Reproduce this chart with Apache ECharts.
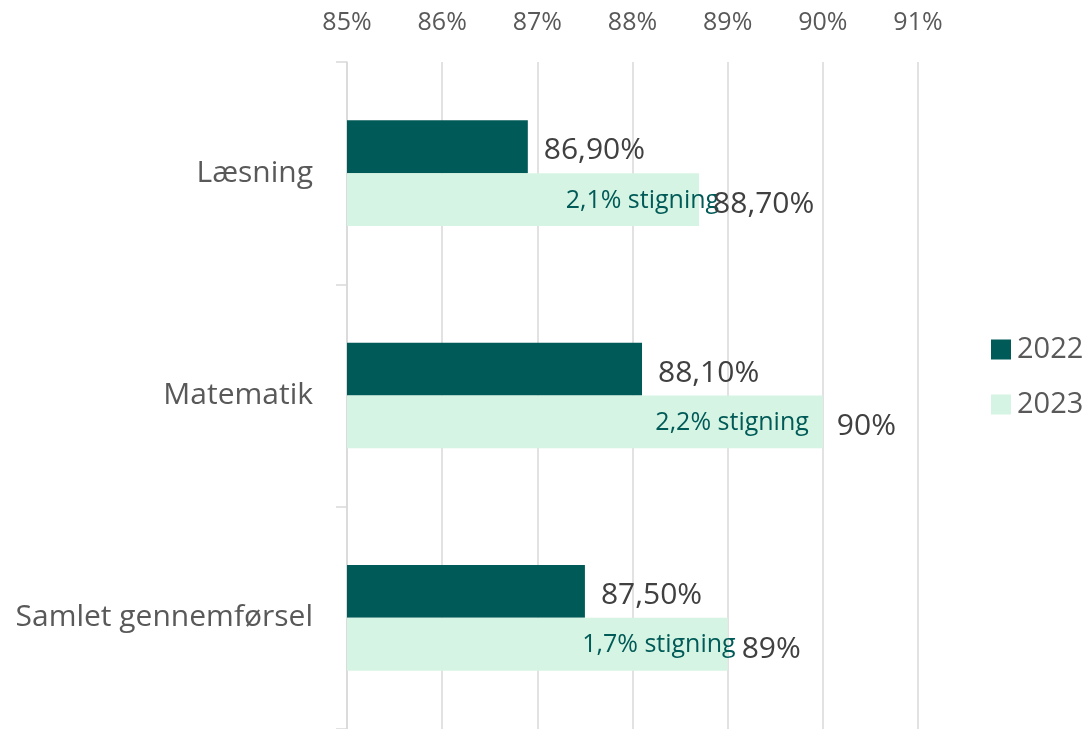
<!DOCTYPE html>
<html>
<head>
<meta charset="utf-8">
<script src="https://cdn.jsdelivr.net/npm/echarts@6/dist/echarts.min.js"></script>
<style>
  html, body { margin: 0; padding: 0; background: #fff; }
  #main { width: 1089px; height: 729px; }
</style>
</head>
<body>
<div id="main"></div>
<script>
// data
const categories = ['Læsning', 'Matematik', 'Samlet gennemførsel'];
const values2022 = [86.9, 88.1, 87.5];
const values2023 = [88.7, 90, 89];
const labels2022 = ['86,90%', '88,10%', '87,50%'];
const labels2023 = ['88,70%', '90%', '89%'];
const stigning = ['2,1% stigning', '2,2% stigning', '1,7% stigning'];
const xTicks = [85, 86, 87, 88, 89, 90, 91];

// hand placement of the "stigning" notes (as in the source chart)
const stigningShift = [20, -14, 8];

const font = 'Open Sans';
const dark = '#005a57';
const light = '#d6f4e3';

const chart = echarts.init(document.getElementById('main'));

chart.setOption({
  animation: false,
  textStyle: { fontFamily: font },
  grid: { left: 347, right: 171, top: 62, bottom: 0 },
  legend: {
    data: ['2022', '2023'],
    orient: 'vertical',
    left: 986,
    top: 330,
    itemWidth: 20,
    itemHeight: 20,
    itemGap: 26,
    icon: 'rect',
    textStyle: { fontSize: 29, color: '#595959', fontFamily: font, padding: [0, 0, 0, 1] }
  },
  xAxis: {
    type: 'value',
    position: 'top',
    min: xTicks[0],
    max: xTicks[xTicks.length - 1],
    interval: 1,
    axisLine: { show: false },
    axisTick: { show: false },
    axisLabel: {
      formatter: v => v + '%',
      fontSize: 25,
      color: '#595959',
      margin: 27
    },
    splitLine: { lineStyle: { color: '#d9d9d9', width: 1.5 } }
  },
  yAxis: {
    type: 'category',
    inverse: true,
    data: categories,
    axisLine: { lineStyle: { color: '#d9d9d9', width: 1.5 } },
    axisTick: { show: true, length: 11, lineStyle: { color: '#d9d9d9', width: 1.5 } },
    axisLabel: { fontSize: 30, color: '#595959', margin: 34 }
  },
  series: [
    {
      name: '2022',
      type: 'bar',
      data: values2022,
      itemStyle: { color: dark },
      barGap: '0%',
      barCategoryGap: '52.5%',
      label: {
        show: true,
        position: 'right',
        distance: 16,
        offset: [0, 4],
        fontSize: 30,
        color: '#404040',
        formatter: p => labels2022[p.dataIndex]
      }
    },
    {
      name: '2023',
      type: 'bar',
      stack: 'y23',
      data: values2023.map((v, i) => ({
        value: v,
        label: { offset: [stigningShift[i], 1] }
      })),
      itemStyle: { color: light },
      label: {
        show: true,
        position: 'insideRight',
        distance: 0,
        fontSize: 25,
        color: dark,
        formatter: p => stigning[p.dataIndex]
      }
    },
    {
      // zero-length cap on the 2023 bar that carries its value label
      name: '2023 værdi',
      type: 'bar',
      stack: 'y23',
      data: categories.map(() => 0),
      itemStyle: { color: 'transparent' },
      label: {
        show: true,
        position: 'right',
        distance: 14,
        offset: [0, 5],
        fontSize: 30,
        color: '#404040',
        formatter: p => labels2023[p.dataIndex]
      }
    }
  ]
});
</script>
</body>
</html>
